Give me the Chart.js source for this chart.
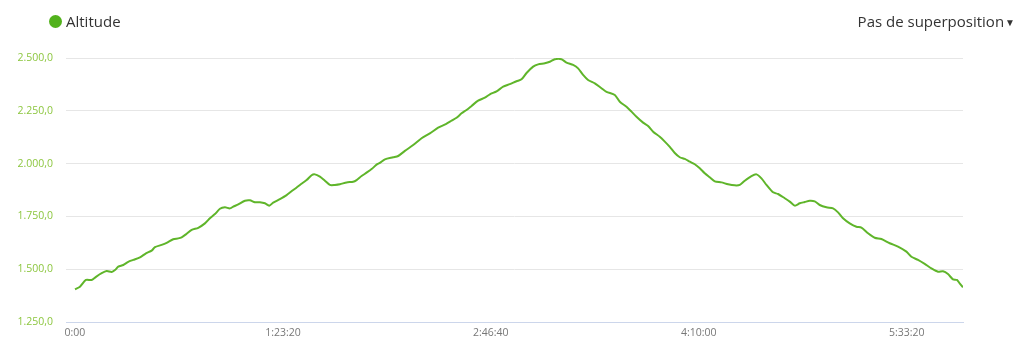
<!DOCTYPE html>
<html>
<head>
<meta charset="utf-8">
<script src="https://cdn.jsdelivr.net/npm/chart.js@4/dist/chart.umd.min.js"></script>
<style>
  html, body { margin: 0; padding: 0; background: #fff; }
  #wrap { position: relative; width: 1024px; height: 360px; font-family: "Open Sans", sans-serif; }
  #c { position: absolute; left: 0; top: 0; }
  #legend { position: absolute; left: 49px; top: 11px; font-size: 15px; color: #333; display: flex; align-items: center; }
  #legend .dot { width: 13px; height: 13px; border-radius: 50%; background: #52b21c; margin-right: 4px; }
  #overlay { position: absolute; right: 9px; top: 11px; font-size: 15px; color: #333; }
  #overlay .arr { font-size: 10px; margin-left: 1px; position: relative; top: -1px; }
</style>
</head>
<body>
<div id="wrap">
  <canvas id="c" width="1024" height="360"></canvas>
  <div id="legend"><span class="dot"></span><span>Altitude</span></div>
  <div id="overlay">Pas de superposition<span class="arr">▼</span></div>
</div>
<script>
// elapsed time in seconds
const times = [0,120,264,401,505,642,762,882,962,1041,1161,1281,1402,1563,1707,1844,1923,2084,2204,2363,2483,2565,2668,2806,2964,3125,3245,3366,3486,3606,3726,3806,3926,4087,4207,4327,4447,4568,4671,4767,4928,5089,5248,5409,5570,5690,5770,5890,6010,6130,6250,6371,6532,6690,6772,6892,7012,7133,7253,7332,7453,7652,7772,7933,8133,8335,8534,8734,8919,9056,9176,9296,9416,9537,9695,9856,9977,10138,10297,10457,10618,10738,10859,11018,11138,11299,11419,11539,11700,11820,11979,12099,12219,12339,12501,12662,12782,12982,13102,13263,13383,13503,13662,13782,13903,14063,14184,14304,14424,14544,14664,14784,14905,15025,15145,15265,15386,15547,15706,15866,15987,16107,16268,16388,16508,16629,16787,16908,17068,17189,17309,17429,17549,17670,17790,17910,18071,18230,18350,18470,18631,18792,18912,19071,19232,19393,19593,19792,19994,20114,20273,20434,20595,20753,20874,20994,21114,21210,21275,21355];
// altitude in metres
const altitude = [1405,1417,1449,1449,1464,1481,1491,1487,1496,1512,1520,1535,1544,1556,1575,1588,1604,1615,1625,1642,1646,1651,1665,1686,1696,1717,1741,1761,1786,1793,1788,1796,1807,1824,1826,1817,1817,1812,1801,1815,1832,1851,1875,1899,1922,1945,1949,1938,1919,1899,1899,1902,1911,1914,1922,1941,1957,1974,1995,2003,2020,2030,2036,2060,2088,2120,2143,2170,2187,2203,2217,2238,2254,2273,2298,2312,2328,2342,2364,2376,2390,2399,2429,2459,2470,2475,2482,2494,2494,2478,2467,2451,2420,2396,2380,2357,2340,2325,2293,2269,2246,2222,2194,2178,2151,2127,2104,2079,2050,2030,2022,2009,1997,1978,1954,1935,1916,1911,1902,1897,1899,1919,1941,1949,1930,1899,1864,1856,1836,1820,1801,1812,1818,1824,1821,1804,1793,1788,1769,1741,1717,1701,1697,1670,1649,1643,1623,1607,1583,1559,1544,1525,1504,1488,1490,1477,1452,1449,1433,1414];
const xTicks = [0, 5000, 10000, 15000, 20000];
const yTicks = [1250, 1500, 1750, 2000, 2250, 2500];

function fmtTime(s) {
  const h = Math.floor(s / 3600);
  const m = Math.floor((s % 3600) / 60);
  const sec = Math.round(s % 60);
  if (s === 0) return '0:00';
  return h + ':' + String(m).padStart(2, '0') + ':' + String(sec).padStart(2, '0');
}
function fmtAlt(v) {
  return v.toLocaleString('en-US').replace(/,/g, '.') + ',0';
}

const points = times.map((t, i) => ({ x: t, y: altitude[i] }));

new Chart(document.getElementById('c'), {
  type: 'line',
  data: {
    datasets: [{
      label: 'Altitude',
      data: points,
      borderColor: '#5fb52a',
      borderWidth: 2,
      pointRadius: 0,
      tension: 0.25,
      fill: false
    }]
  },
  options: {
    responsive: false,
    animation: false,
    layout: { padding: { top: 58, right: 61, left: 0, bottom: 0 } },
    plugins: { legend: { display: false }, tooltip: { enabled: false } },
    scales: {
      x: {
        type: 'linear',
        min: -216,
        max: 21355,
        afterBuildTicks: (s) => { s.ticks = xTicks.map(v => ({ value: v })); },
        afterFit: (s) => { s.height = 38; },
        grid: { display: false, drawTicks: false },
        border: { display: true, color: '#ccd6eb', width: 1 },
        ticks: {
          padding: 5,
          color: '#777',
          font: { family: 'Open Sans', size: 10.5 },
          maxRotation: 0,
          autoSkip: false,
          callback: (v) => fmtTime(v)
        }
      },
      y: {
        min: 1250,
        max: 2500,
        afterBuildTicks: (s) => { s.ticks = yTicks.map(v => ({ value: v })); },
        afterFit: (s) => { s.width = 66; },
        grid: { color: '#e6e6e6', drawTicks: false, lineWidth: 1 },
        border: { display: false },
        ticks: {
          padding: 13,
          color: '#8cc63f',
          font: { family: 'Open Sans', size: 10.5 },
          callback: (v) => fmtAlt(v)
        }
      }
    }
  }
});
</script>
</body>
</html>
